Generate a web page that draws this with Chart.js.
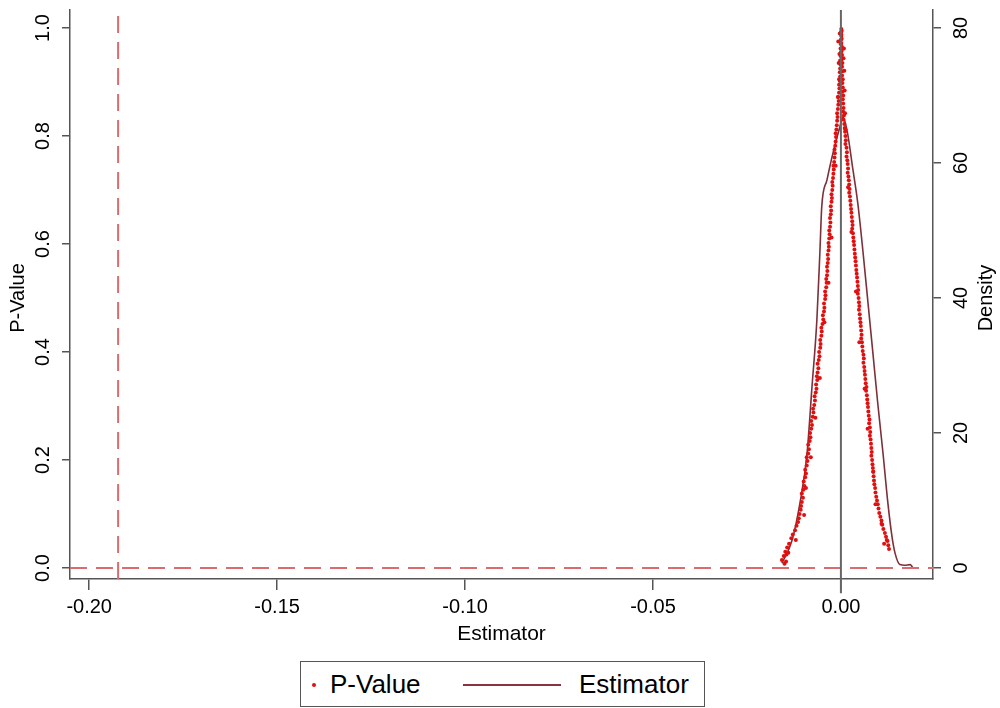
<!DOCTYPE html>
<html>
<head>
<meta charset="utf-8">
<script src="https://cdn.jsdelivr.net/npm/chart.js@4.4.1/dist/chart.umd.min.js"></script>
<style>
  html, body { margin: 0; padding: 0; background: #fff; }
  #wrap { position: relative; width: 1000px; height: 708px; }
  #legend {
    position: absolute; left: 300px; top: 661px; width: 405px; height: 46px;
    box-sizing: border-box; border: 1.5px solid #555; background: #fff;
    font-family: "Liberation Sans", Arial, sans-serif; font-size: 26px; color: #000;
  }
  #legend .dot { position: absolute; left: 11px; top: 21px; width: 4px; height: 4px; border-radius: 2px; background: #e01010; }
  #legend .t1 { position: absolute; left: 29px; top: 7px; }
  #legend .ln { position: absolute; left: 162px; top: 22px; width: 98px; height: 0; border-top: 2px solid #8a3340; }
  #legend .t2 { position: absolute; left: 278px; top: 7px; }
</style>
</head>
<body>
<div id="wrap">
  <canvas id="graf" width="1000" height="708"></canvas>
  <div id="legend">
    <span class="dot"></span><span class="t1">P-Value</span>
    <span class="ln"></span><span class="t2">Estimator</span>
  </div>
</div>
<script>
// p-values, left flank (estimator < 0), read bottom to top
const leftEst = [
  -0.0150, -0.0157, -0.0152, -0.0146, -0.0148, -0.0143, -0.0138, -0.0140, -0.0132, -0.0128,
  -0.0122, -0.0118, -0.0114, -0.0112, -0.0110, -0.0107, -0.0106, -0.0104, -0.0101, -0.0104,
  -0.0100, -0.0097, -0.0099, -0.0095, -0.0093, -0.0095, -0.0091, -0.0089, -0.0091, -0.0087,
  -0.0085, -0.0087, -0.0083, -0.0081, -0.0082, -0.0079, -0.0077, -0.0079, -0.0075, -0.0073,
  -0.0074, -0.0071, -0.0069, -0.0070, -0.0067, -0.0065, -0.0066, -0.0063, -0.0064, -0.0062,
  -0.0060, -0.0062, -0.0059, -0.0057, -0.0058, -0.0055, -0.0054, -0.0055, -0.0052, -0.0051,
  -0.0052, -0.0049, -0.0047, -0.0048, -0.0045, -0.0044, -0.0045, -0.0042, -0.0041, -0.0042,
  -0.0039, -0.0038, -0.0039, -0.0037, -0.0036, -0.0037, -0.0035, -0.0034, -0.0035, -0.0033,
  -0.0032, -0.0033, -0.0031, -0.0030, -0.0031, -0.0029, -0.0028, -0.0029, -0.0027, -0.0026,
  -0.0027, -0.0025, -0.0024, -0.0025, -0.0023, -0.0022, -0.0023, -0.0021, -0.0020, -0.0019,
  -0.0020, -0.0018, -0.0017, -0.0016, -0.0017, -0.0015, -0.0014, -0.0013, -0.0014, -0.0012,
  -0.0011, -0.0010, -0.0009, -0.0010, -0.0008, -0.0007, -0.0006, -0.0007, -0.0005, -0.0004,
  -0.0005, -0.0003, -0.0002, -0.0003, -0.0002, -0.0001, -0.0002, -0.0001, 0.0000, -0.0001,
  0.0000, 0.0000, 0.0001, 0.0000, 0.0001
];
const leftP = [
  0.008, 0.015, 0.022, 0.012, 0.030, 0.038, 0.045, 0.028, 0.055, 0.062,
  0.070, 0.078, 0.085, 0.092, 0.100, 0.108, 0.115, 0.122, 0.130, 0.138,
  0.145, 0.152, 0.160, 0.168, 0.175, 0.182, 0.190, 0.198, 0.205, 0.212,
  0.220, 0.228, 0.235, 0.242, 0.250, 0.258, 0.265, 0.272, 0.280, 0.288,
  0.295, 0.302, 0.310, 0.318, 0.325, 0.332, 0.340, 0.348, 0.355, 0.362,
  0.370, 0.378, 0.385, 0.392, 0.400, 0.408, 0.415, 0.422, 0.430, 0.438,
  0.445, 0.452, 0.460, 0.468, 0.475, 0.482, 0.490, 0.498, 0.505, 0.512,
  0.520, 0.528, 0.535, 0.542, 0.550, 0.558, 0.565, 0.572, 0.580, 0.588,
  0.595, 0.602, 0.610, 0.618, 0.625, 0.632, 0.640, 0.648, 0.655, 0.662,
  0.670, 0.678, 0.685, 0.692, 0.700, 0.708, 0.715, 0.722, 0.730, 0.738,
  0.745, 0.752, 0.760, 0.768, 0.775, 0.782, 0.790, 0.798, 0.805, 0.812,
  0.820, 0.828, 0.835, 0.842, 0.850, 0.858, 0.865, 0.872, 0.880, 0.888,
  0.895, 0.902, 0.910, 0.918, 0.925, 0.932, 0.940, 0.948, 0.955, 0.962,
  0.970, 0.978, 0.985, 0.992, 0.998
];

// p-values, right flank (estimator > 0), read top to bottom
const rightEst = [
  0.0002, 0.0001, 0.0002, 0.0001, 0.0003, 0.0002, 0.0003, 0.0002, 0.0004, 0.0003,
  0.0004, 0.0003, 0.0005, 0.0004, 0.0005, 0.0004, 0.0006, 0.0005, 0.0006, 0.0007,
  0.0006, 0.0008, 0.0007, 0.0009, 0.0010, 0.0011, 0.0012, 0.0013, 0.0012, 0.0015,
  0.0016, 0.0015, 0.0017, 0.0018, 0.0019, 0.0018, 0.0020, 0.0021, 0.0022, 0.0023,
  0.0022, 0.0024, 0.0025, 0.0026, 0.0027, 0.0028, 0.0029, 0.0030, 0.0031, 0.0030,
  0.0032, 0.0033, 0.0034, 0.0035, 0.0036, 0.0037, 0.0038, 0.0039, 0.0040, 0.0041,
  0.0042, 0.0043, 0.0044, 0.0045, 0.0046, 0.0045, 0.0047, 0.0048, 0.0049, 0.0048,
  0.0050, 0.0051, 0.0052, 0.0053, 0.0054, 0.0055, 0.0054, 0.0056, 0.0057, 0.0058,
  0.0060, 0.0061, 0.0060, 0.0062, 0.0063, 0.0064, 0.0065, 0.0066, 0.0068, 0.0067,
  0.0069, 0.0070, 0.0071, 0.0072, 0.0073, 0.0074, 0.0076, 0.0075, 0.0077, 0.0078,
  0.0077, 0.0079, 0.0080, 0.0081, 0.0082, 0.0081, 0.0083, 0.0084, 0.0085, 0.0086,
  0.0087, 0.0088, 0.0089, 0.0091, 0.0092, 0.0094, 0.0096, 0.0098, 0.0100, 0.0102,
  0.0105, 0.0108, 0.0110, 0.0113, 0.0117, 0.0120, 0.0124, 0.0126, 0.0128
];
const rightP = [
  0.995, 0.988, 0.980, 0.972, 0.965, 0.958, 0.950, 0.942, 0.935, 0.928,
  0.920, 0.912, 0.905, 0.898, 0.890, 0.882, 0.875, 0.868, 0.860, 0.852,
  0.845, 0.838, 0.830, 0.822, 0.815, 0.808, 0.800, 0.792, 0.785, 0.778,
  0.770, 0.762, 0.755, 0.748, 0.740, 0.732, 0.725, 0.718, 0.710, 0.702,
  0.695, 0.688, 0.680, 0.672, 0.665, 0.658, 0.650, 0.642, 0.635, 0.628,
  0.620, 0.612, 0.605, 0.598, 0.590, 0.582, 0.575, 0.568, 0.560, 0.552,
  0.545, 0.538, 0.530, 0.522, 0.515, 0.508, 0.500, 0.492, 0.485, 0.478,
  0.470, 0.462, 0.455, 0.448, 0.440, 0.432, 0.425, 0.418, 0.410, 0.402,
  0.395, 0.388, 0.380, 0.372, 0.365, 0.358, 0.350, 0.342, 0.335, 0.328,
  0.320, 0.312, 0.305, 0.298, 0.290, 0.282, 0.275, 0.268, 0.260, 0.252,
  0.245, 0.238, 0.230, 0.222, 0.215, 0.208, 0.200, 0.192, 0.185, 0.178,
  0.170, 0.162, 0.155, 0.148, 0.140, 0.132, 0.125, 0.118, 0.110, 0.102,
  0.095, 0.088, 0.080, 0.072, 0.065, 0.058, 0.050, 0.042, 0.035
];

const extraEst = [
  -0.0007, 0.0008, -0.0006, 0.0009, -0.0005, 0.0010, -0.0004, 0.0011, -0.0008, 0.0012,
  -0.0003, 0.0007, -0.0014, 0.0019, -0.0025, 0.0028, -0.0033, 0.0040, -0.0044, 0.0049,
  -0.0056, 0.0063, -0.0068, 0.0071, -0.0080, 0.0086, -0.0093, 0.0092, -0.0098, 0.0108,
  -0.0120, 0.0115, -0.0145, 0.0122
];
const extraP = [
  0.975, 0.962, 0.935, 0.921, 0.905, 0.884, 0.952, 0.842, 0.872, 0.812,
  0.990, 0.944, 0.745, 0.705, 0.612, 0.622, 0.528, 0.512, 0.455, 0.418,
  0.352, 0.332, 0.278, 0.258, 0.205, 0.178, 0.148, 0.118, 0.098, 0.082,
  0.052, 0.045, 0.025, 0.052
];

// density of the estimator (right axis)
const densEst = [-0.0157, -0.0130, -0.0109, -0.0090, -0.0077, -0.0064, -0.0056, -0.0051, -0.0037, -0.0021,
  -0.0003, 0.0005, 0.0016, 0.0032, 0.0045, 0.0059, 0.0072, 0.0085, 0.0098, 0.0112,
  0.0125, 0.0136, 0.0144, 0.0157, 0.0170, 0.0184, 0.0191];
const densVal = [0.7, 4.1, 9.6, 17.0, 26.8, 36.7, 46.7, 53.5, 57.5, 61.5,
  65.3, 66.8, 64.9, 59.0, 54.0, 46.7, 39.3, 31.9, 24.4, 17.0,
  9.6, 4.6, 2.2, 0.5, 0.4, 0.5, 0.1];

const realEstimate = -0.1923;
const xTicks = [-0.20, -0.15, -0.10, -0.05, 0.00];
const pTicks = [0.0, 0.2, 0.4, 0.6, 0.8, 1.0];
const densTicks = [0, 20, 40, 60, 80];

const xMin = -0.2051, xMax = 0.0245;
const pMin = -0.0204, pMax = 1.0333;

const FONT = '"Liberation Sans", Arial, sans-serif';

const pvalPoints = leftEst.map((e, i) => ({ x: e, y: leftP[i] }))
  .concat(rightEst.map((e, i) => ({ x: e, y: rightP[i] })))
  .concat(extraEst.map((e, i) => ({ x: e, y: extraP[i] })));

function rotText(ctx, txt, x, y) {
  ctx.save();
  ctx.translate(x, y);
  ctx.rotate(-Math.PI / 2);
  ctx.fillText(txt, 0, 0);
  ctx.restore();
}

const sideText = {
  id: 'sideText',
  afterDraw(chart) {
    const ctx = chart.ctx;
    const yL = chart.scales.y, yR = chart.scales.y2;
    ctx.save();
    ctx.fillStyle = '#000';
    ctx.textAlign = 'center';
    ctx.textBaseline = 'middle';
    ctx.font = '20px ' + FONT;
    yL.ticks.forEach(t => rotText(ctx, t.label, 43, yL.getPixelForValue(t.value)));
    yR.ticks.forEach(t => rotText(ctx, t.label, 961, yR.getPixelForValue(t.value)));
    rotText(ctx, 'P-Value', 18, 298);
    rotText(ctx, 'Density', 986, 298);
    ctx.font = '21px ' + FONT;
    ctx.fillText('Estimator', (chart.chartArea.left + chart.chartArea.right) / 2, 634);
    ctx.restore();
  }
};

const axisGrid = {
  display: true,
  drawOnChartArea: false,
  drawTicks: true,
  color: '#555',
  lineWidth: 1.5
};

new Chart(document.getElementById('graf').getContext('2d'), {
  type: 'scatter',
  data: {
    datasets: [
      {
        label: 'zero',
        data: [{ x: 0, y: -0.047 }, { x: 0, y: pMax }],
        showLine: true, borderColor: '#666', borderWidth: 2, pointRadius: 0, clip: false
      },
      {
        label: 'true value',
        data: [{ x: realEstimate, y: pMin }, { x: realEstimate, y: pMax }],
        showLine: true, borderColor: '#dc6b6e', borderWidth: 2, borderDash: [17, 9], pointRadius: 0
      },
      {
        label: 'zero p',
        data: [{ x: xMin, y: 0 }, { x: xMax, y: 0 }],
        showLine: true, borderColor: '#dc6b6e', borderWidth: 2, borderDash: [17, 9], pointRadius: 0
      },
      {
        label: 'P-Value',
        data: pvalPoints,
        pointRadius: 2, pointBackgroundColor: '#e01010', pointBorderWidth: 0, showLine: false
      },
      {
        label: 'Estimator',
        data: densEst.map((e, i) => ({ x: e, y: densVal[i] })),
        yAxisID: 'y2', showLine: true, borderColor: '#7d2f3a', borderWidth: 1.6,
        pointRadius: 0, cubicInterpolationMode: 'monotone'
      }
    ]
  },
  options: {
    responsive: false,
    animation: false,
    layout: { padding: { top: 10, left: 0, right: 0, bottom: 0 } },
    plugins: { legend: { display: false }, tooltip: { enabled: false } },
    scales: {
      x: {
        type: 'linear', min: xMin, max: xMax,
        afterBuildTicks: s => { s.ticks = xTicks.map(v => ({ value: v })); },
        afterFit: s => { s.height = 129; },
        grid: { ...axisGrid, tickLength: 11 },
        border: { display: true, color: '#555', width: 1.5 },
        ticks: {
          padding: 5, color: '#000', maxRotation: 0,
          font: { family: FONT, size: 20 },
          callback: v => v.toFixed(2)
        }
      },
      y: {
        type: 'linear', position: 'left', min: pMin, max: pMax,
        afterBuildTicks: s => { s.ticks = pTicks.map(v => ({ value: v })); },
        afterFit: s => { s.width = 70; },
        grid: { ...axisGrid, tickLength: 8 },
        border: { display: true, color: '#555', width: 1.5 },
        ticks: { display: false, callback: v => v.toFixed(1) }
      },
      y2: {
        type: 'linear', position: 'right', min: pMin * 80, max: pMax * 80,
        afterBuildTicks: s => { s.ticks = densTicks.map(v => ({ value: v })); },
        afterFit: s => { s.width = 67; },
        grid: { ...axisGrid, tickLength: 8 },
        border: { display: true, color: '#555', width: 1.5 },
        ticks: { display: false, callback: v => String(v) }
      }
    }
  },
  plugins: [sideText]
});
</script>
</body>
</html>
